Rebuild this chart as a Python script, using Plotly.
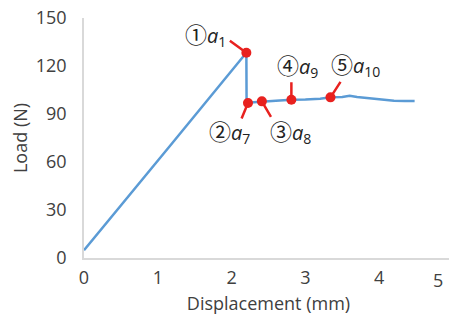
import plotly.graph_objects as go

# Load-displacement curve
disp = [0.0, 0.4, 0.8, 1.2, 1.6, 2.0, 2.2, 2.203, 2.222, 2.3, 2.41, 2.6, 2.81, 3.0,
        3.2, 3.34, 3.5, 3.6, 3.7, 3.85, 4.0, 4.2, 4.35, 4.48]
load = [4.8, 27.0, 49.5, 72.0, 94.5, 117.0, 128.3, 97.2, 96.9, 97.4, 97.9, 98.3, 98.9, 99.0,
        99.6, 100.4, 100.6, 101.4, 100.6, 99.8, 99.3, 98.3, 98.2, 98.1]

# Marked points
mark_x = [2.20, 2.222, 2.41, 2.81, 3.34]
mark_y = [128.3, 96.9, 97.9, 98.9, 100.4]
mark_num = ["①", "②", "③", "④", "⑤"]
mark_sub = ["1", "7", "8", "9", "10"]

x_ticks = [0, 1, 2, 3, 4, 5]
y_ticks = [0, 30, 60, 90, 120, 150]

fig = go.Figure()
fig.add_trace(go.Scatter(x=disp, y=load, mode="lines",
                         line=dict(color="#5b9bd5", width=2.5), showlegend=False))
fig.add_trace(go.Scatter(x=mark_x, y=mark_y, mode="markers",
                         marker=dict(color="#e8211f", size=10), showlegend=False))

# callout line offsets (pixels) and label offsets
line_off = [(-18, -13), (-7, 17), (10, 17), (0, -19), (11, -17)]
label_off = [(-41, 19), (-18, -28), (29, -30), (6, 35), (25, 33)]

for i in range(len(mark_x)):
    fig.add_annotation(x=mark_x[i], y=mark_y[i], text="", showarrow=True,
                       arrowhead=0, arrowwidth=2.5, arrowcolor="#e8211f",
                       ax=line_off[i][0], ay=line_off[i][1], standoff=0)
    txt = ('<span style="font-family:\'Noto Sans CJK JP\';font-size:22px">' + mark_num[i] + '</span>'
           + '<i>a</i><sub>' + mark_sub[i] + '</sub>')
    fig.add_annotation(x=mark_x[i], y=mark_y[i], text=txt, showarrow=False,
                       xshift=label_off[i][0], yshift=label_off[i][1],
                       font=dict(size=20, color="#222222", family="Open Sans"))

# last x tick label sits at the very edge of the page: nudge it left so it stays visible
fig.add_annotation(x=x_ticks[-1], y=y_ticks[0], text=str(x_ticks[-1]), showarrow=False,
                   yanchor="middle", yshift=-22, xshift=-15,
                   font=dict(size=18, color="#404040", family="Open Sans"))

# page body has an 8px margin: shrink the figure so the page never overflows
fig.update_layout(
    width=449, height=307,
    margin=dict(l=76, r=4, t=10, b=57),
    paper_bgcolor="white", plot_bgcolor="white",
    font=dict(family="Open Sans", color="#404040", size=18),
    xaxis=dict(range=[0, 5], tickvals=x_ticks[:-1], showgrid=False, zeroline=False,
               showline=True, linecolor="#d9d9d9", linewidth=1.5, ticks="",
               automargin=False, ticklabelstandoff=3, ticklabeloverflow="allow",
               title=dict(text="Displacement (mm)", font=dict(size=18), standoff=19),
               tickfont=dict(size=18)),
    yaxis=dict(range=[0, 150], tickvals=y_ticks, showgrid=False, zeroline=False,
               showline=True, linecolor="#d9d9d9", linewidth=1.5, ticks="",
               automargin=False, ticklabelstandoff=12, ticklabeloverflow="allow",
               title=dict(text="Load (N)", font=dict(size=18), standoff=16),
               tickfont=dict(size=18)),
)

fig.write_html("out.html")
